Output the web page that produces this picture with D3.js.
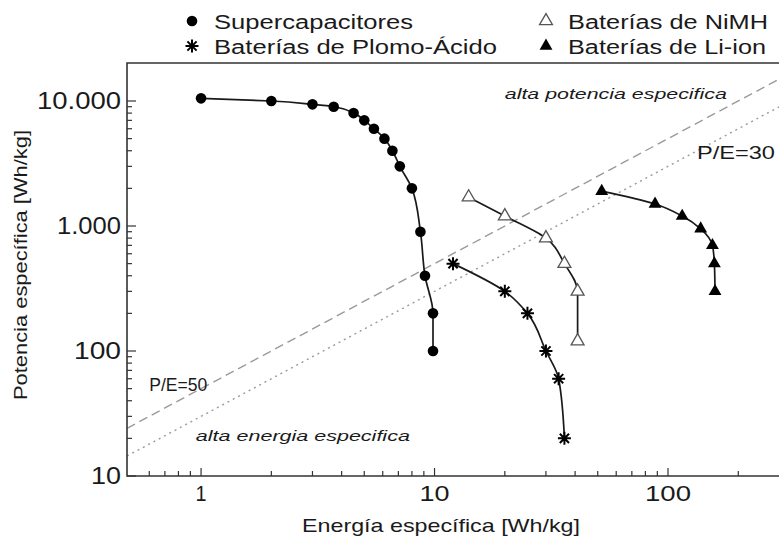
<!DOCTYPE html>
<html>
<head>
<meta charset="utf-8">
<script src="https://cdn.jsdelivr.net/npm/d3@7/dist/d3.min.js"></script>
<style>
body { margin: 0; background: #fff; }
text { font-family: "Liberation Sans", Arial, sans-serif; fill: #1a1a1a; }
</style>
</head>
<body>
<div id="div_id_main"></div>
<script>

// ---- data (energía Wh/kg, potencia W/kg) ----
const dsSupercap = [[1, 10500], [2, 10000], [3, 9400], [3.7, 9000], [4.5, 8000], [5, 7000], [5.5, 6000],
                    [6.1, 5000], [6.6, 4000], [7.1, 3000], [8, 2000], [8.7, 900], [9.1, 400], [9.85, 200], [9.85, 100]];
const dsPlomo    = [[12, 500], [20, 300], [25, 200], [30, 100], [34, 60], [36, 20]];
const dsNiMH     = [[14, 1700], [20, 1200], [30, 800], [36, 500], [41, 300], [41, 120]];
const dsLiIon    = [[52, 1900], [88, 1500], [115, 1200], [138, 950], [155, 700], [158, 500], [159, 300]];

const vRatios    = [50, 30];                       // P/E reference lines
const vYTicks    = [10, 100, 1000, 10000];
const vYLabels   = ["10", "100", "1.000", "10.000"];
const vXTicks    = [1, 10, 100];
const vXLabels   = ["1", "10", "100"];

const vLegend    = ["Supercapacitores", "Baterías de Plomo-Ácido", "Baterías de NiMH", "Baterías de Li-ion"];

const vNotes     = [
	{ text: "alta potencia especifica", e: 20,   p: 10400, italic: true },
	{ text: "alta energia especifica",  e: 0.95, p: 19,    italic: true },
	{ text: "P/E=50",                   e: 0.6,  p: 48,    italic: false },
	{ text: "P/E=30",                   e: 133,  p: 3450,  italic: false }
];

// ---- layout ----
const W = 779, H = 540;
const LEFT = 127, RIGHT = 779, TOP = 63, BOTTOM = 476;

const svg = d3.select("#div_id_main").append("svg")
	.attr("width", W).attr("height", H);

const fScale_E = d3.scaleLog().domain([0.4817, 298.8]).range([LEFT, RIGHT]);
const fScale_P = d3.scaleLog().domain([10, 20137]).range([BOTTOM, TOP]);

// stretched text, the picture is wider than high
function stretch(sel, w) {
	sel.attr("textLength", w).attr("lengthAdjust", "spacingAndGlyphs");
	return sel;
}

// ---- reference lines ----
let gRef = svg.append("g");
vRatios.forEach(function(r, i) {
	let dom = fScale_E.domain();
	gRef.append("line")
		.attr("x1", fScale_E(dom[0])).attr("y1", fScale_P(dom[0] * r))
		.attr("x2", fScale_E(dom[1])).attr("y2", fScale_P(dom[1] * r))
		.attr("stroke", "#9a9a9a")
		.attr("stroke-width", 1.4)
		.attr("stroke-dasharray", i == 0 ? "9,5" : "2,4");
});

// ---- frame & ticks ----
let gAxis = svg.append("g").attr("stroke", "#333").attr("fill", "none");

gAxis.append("path")
	.attr("d", "M" + RIGHT + "," + TOP + "H" + LEFT + "V" + BOTTOM + "H" + RIGHT)
	.attr("stroke-width", 1.6);

let vXMinor = fScale_E.ticks().filter(function(v) { return v > fScale_E.domain()[0] * 1.1; });
vXMinor.forEach(function(v) {
	let major = vXTicks.indexOf(v) >= 0;
	gAxis.append("line")
		.attr("x1", fScale_E(v)).attr("x2", fScale_E(v))
		.attr("y1", BOTTOM).attr("y2", BOTTOM - (major ? 8 : 5))
		.attr("stroke-width", 1.2);
});

let vYMinor = fScale_P.ticks().filter(function(v) { return v < fScale_P.domain()[1] * 0.95; });
vYMinor.forEach(function(v) {
	let major = vYTicks.indexOf(v) >= 0;
	gAxis.append("line")
		.attr("x1", LEFT).attr("x2", LEFT + (major ? 9 : 5))
		.attr("y1", fScale_P(v)).attr("y2", fScale_P(v))
		.attr("stroke-width", 1.2);
});

// tick labels
const vYLabelW = { "10": 30, "100": 47, "1.000": 64, "10.000": 84 };
vYTicks.forEach(function(v, i) {
	stretch(svg.append("text")
		.attr("x", LEFT - 6)
		.attr("y", fScale_P(v) + 8)
		.attr("text-anchor", "end")
		.attr("font-size", 23)
		.text(vYLabels[i]), vYLabelW[vYLabels[i]]);
});
const vXLabelW = { "1": 11, "10": 30, "100": 46 };
vXTicks.forEach(function(v, i) {
	stretch(svg.append("text")
		.attr("x", fScale_E(v))
		.attr("y", BOTTOM + 25)
		.attr("text-anchor", "middle")
		.attr("font-size", 22)
		.text(vXLabels[i]), vXLabelW[vXLabels[i]]);
});

// axis titles
stretch(svg.append("text")
	.attr("x", 441).attr("y", 532)
	.attr("text-anchor", "middle")
	.attr("font-size", 19)
	.text("Energía específica [Wh/kg]"), 278);

stretch(svg.append("text")
	.attr("transform", "translate(27,265) rotate(-90)")
	.attr("text-anchor", "middle")
	.attr("font-size", 18)
	.text("Potencia específica [Wh/kg]"), 270);

// ---- notes ----
const vNoteW = [222, 214, 58, 78];
vNotes.forEach(function(n, i) {
	stretch(svg.append("text")
		.attr("x", fScale_E(n.e))
		.attr("y", fScale_P(n.p))
		.attr("font-size", n.italic ? 15 : 18)
		.attr("font-style", n.italic ? "italic" : "normal")
		.attr("fill", "#2a2a2a")
		.text(n.text), vNoteW[i]);
});

// ---- series ----
const line = d3.line()
	.x(function(d) { return fScale_E(d[0]); })
	.y(function(d) { return fScale_P(d[1]); })
	.curve(d3.curveMonotoneY);

const asterisk = "M-6.5,0H6.5M0,-6.5V6.5M-4.6,-4.6L4.6,4.6M-4.6,4.6L4.6,-4.6";
const triangle = d3.symbol().type(d3.symbolTriangle).size(72)();

function drawMarker(g, type) {
	if (type == 0)
		g.append("circle").attr("r", 5.3).attr("fill", "#000");
	else if (type == 1)
		g.append("path").attr("d", asterisk).attr("stroke", "#000").attr("stroke-width", 2).attr("fill", "none");
	else if (type == 2)
		g.append("path").attr("d", triangle).attr("fill", "#fff").attr("stroke", "#555").attr("stroke-width", 1.3);
	else
		g.append("path").attr("d", triangle).attr("fill", "#000");
}

let vSeries = [dsSupercap, dsPlomo, dsNiMH, dsLiIon];

vSeries.forEach(function(ds, k) {
	svg.append("path")
		.attr("d", line(ds))
		.attr("fill", "none")
		.attr("stroke", "#1a1a1a")
		.attr("stroke-width", 1.7);
});

vSeries.forEach(function(ds, k) {
	svg.selectAll("g.mk_" + k)
		.data(ds)
		.enter()
			.append("g")
				.attr("class", "mk_" + k)
				.attr("transform", function(d) { return "translate(" + fScale_E(d[0]) + "," + fScale_P(d[1]) + ")"; })
				.each(function() { drawMarker(d3.select(this), k); });
});

// ---- legend ----
const vLegendX = [192, 192, 546, 546];
const vLegendY = [21, 46, 21, 46];
const vLegendW = [199, 283, 200, 198];

vLegend.forEach(function(s, k) {
	let g = svg.append("g").attr("transform", "translate(" + vLegendX[k] + "," + vLegendY[k] + ")");
	drawMarker(g, k);
	stretch(g.append("text")
		.attr("x", 22).attr("y", 7.5)
		.attr("font-size", 20)
		.text(s), vLegendW[k]);
});

</script>
</body>
</html>
